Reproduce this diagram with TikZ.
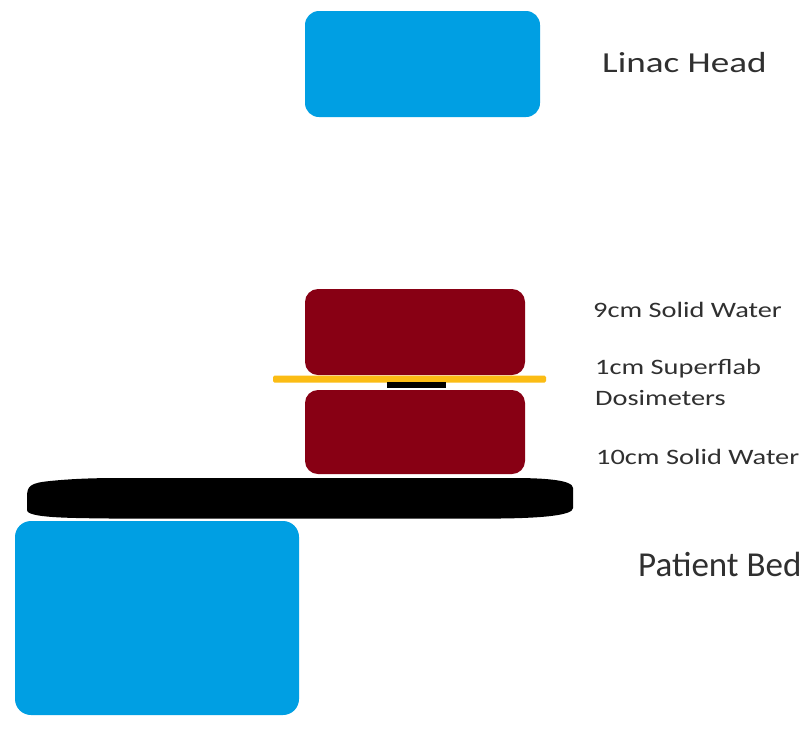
\documentclass[tikz,border=0pt]{standalone}
\usepackage{fontspec}
\setmainfont{Carlito}
\newfontfamily\widefont[FakeStretch=1.29]{Carlito}
\newfontfamily\headfont[FakeStretch=1.28]{Carlito}
\definecolor{bluebox}{HTML}{009FE3}
\definecolor{water}{HTML}{880014}
\definecolor{flab}{HTML}{FBBC14}
\definecolor{labgrey}{HTML}{303030}
\tikzset{
 box/.style={inner sep=0,outer sep=0,anchor=north west},
 lab/.style={anchor=west,inner sep=0,text=labgrey},
 smalllab/.style={lab,font=\widefont\fontsize{22}{24}\selectfont}}
\begin{document}
\begin{tikzpicture}[x=1pt,y=-1pt]
\useasboundingbox (0,0) rectangle (805,729);
\fill[white] (0,0) rectangle (805,729);
\node[box,fill=bluebox,rounded corners=14pt,minimum width=235pt,minimum height=106pt] (head) at (305,11) {};
\node[box,fill=water,rounded corners=13pt,minimum width=220pt,minimum height=86pt] (top) at (305,289) {};
\node[box,fill=water,rounded corners=13pt,minimum width=220pt,minimum height=84pt] (bot) at (305,390) {};
\node[box,fill=flab,rounded corners=1.5pt,minimum width=273pt,minimum height=7pt] (flabstrip) at (273,375.5) {};
\node[box,fill=black,minimum width=59pt,minimum height=6pt] (dos) at (387,382) {};
\fill[black] (27,497) .. controls (27,486) and (30,483) .. (50,481)
  .. controls (70,479) and (90,478) .. (120,478) -- (513,478)
  .. controls (545,478) and (573,480) .. (573,488) -- (573,508)
  .. controls (573,515) and (545,518) .. (500,518.5) -- (110,518.5)
  .. controls (70,518) and (27,518) .. (27,510) -- cycle;
\node[box,fill=bluebox,rounded corners=16pt,minimum width=284pt,minimum height=194pt] (base) at (15,521) {};
\node[lab,font=\headfont\fontsize{29}{31}\selectfont] (l1) at (602,63) {Linac Head};
\node[smalllab] (l2) at (593,310) {9cm Solid Water};
\node[smalllab] (l3) at (595,369) {1cm Superflab};
\node[smalllab] (l4) at (595,398) {Dosimeters};
\node[smalllab] (l5) at (596,457) {10cm Solid Water};
\node[lab,font=\fontsize{35}{37}\selectfont] (l6) at (638,564) {Patient Bed};
\end{tikzpicture}
\end{document}
